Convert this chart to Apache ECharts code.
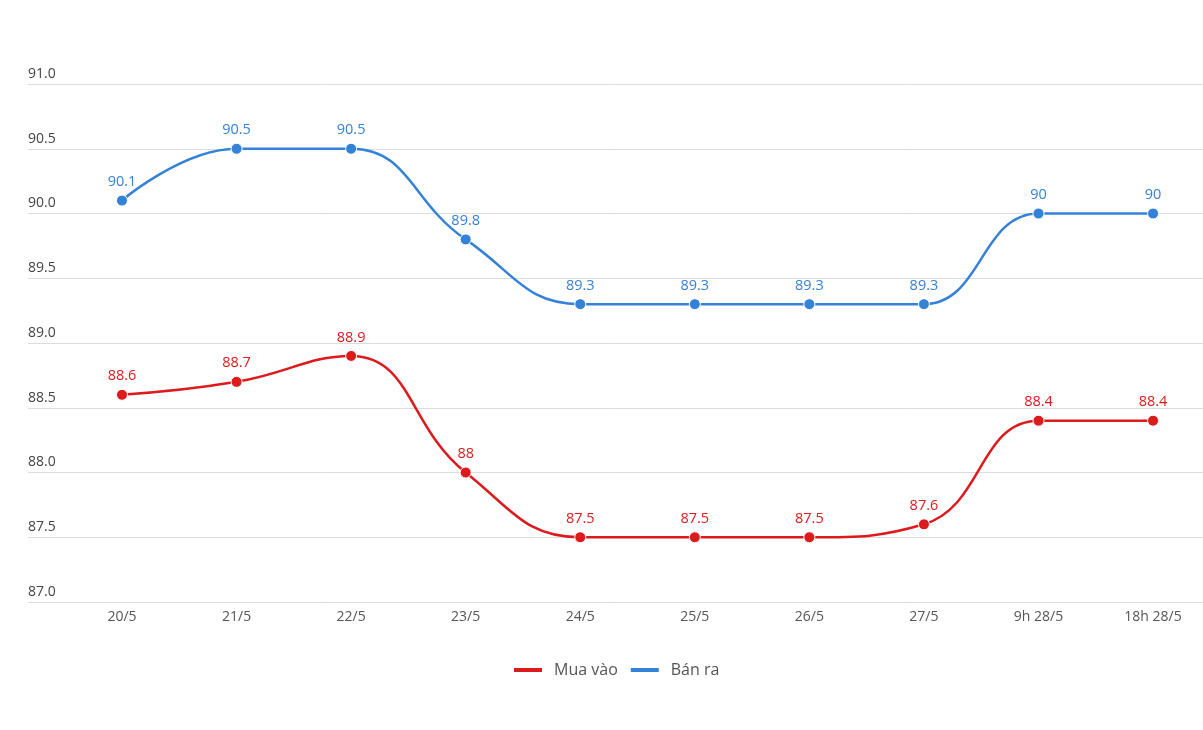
<!DOCTYPE html>
<html>
<head>
<meta charset="utf-8">
<script src="https://cdn.jsdelivr.net/npm/echarts@6/dist/echarts.min.js"></script>
<style>html,body{margin:0;padding:0;background:#fff}#c{width:1203px;height:730px}</style>
</head>
<body>
<div id="c"></div>
<script>
const categories = ['20/5','21/5','22/5','23/5','24/5','25/5','26/5','27/5','9h 28/5','18h 28/5'];
const muaVao = [88.6, 88.7, 88.9, 88.0, 87.5, 87.5, 87.5, 87.6, 88.4, 88.4];
const banRa = [90.1, 90.5, 90.5, 89.8, 89.3, 89.3, 89.3, 89.3, 90.0, 90.0];
const yMin = 87, yMax = 91, yStep = 0.5;

const RED = '#dd1a1c', BLUE = '#3482d8';
const FONT = '"Open Sans", "Noto Sans", sans-serif';
const chart = echarts.init(document.getElementById('c'), null, {renderer: 'canvas'});
const idx = categories.map((c, i) => i);
const toPairs = arr => arr.map((v, i) => [i, v]);
chart.setOption({
  animation: false,
  backgroundColor: '#fff',
  grid: {left: 28, right: 0, top: 84, bottom: 128},
  legend: {
    bottom: 47, left: 509,
    icon: 'rect', itemWidth: 28, itemHeight: 4, itemGap: 13,
    itemStyle: {borderWidth: 0},
    textStyle: {color: '#555', fontSize: 16, fontFamily: FONT, padding: [0,0,0,7]},
    data: ['Mua vào', 'Bán ra']
  },
  xAxis: {
    type: 'value', min: -0.8205, max: 9.436,
    axisLine: {show: false}, axisTick: {show: false}, splitLine: {show: false},
    axisLabel: {customValues: idx, color: '#555', fontSize: 14, fontFamily: FONT, margin: 8,
      formatter: v => categories[Math.round(v)]}
  },
  yAxis: {
    type: 'value', min: yMin, max: yMax, interval: yStep,
    axisLine: {show: false}, axisTick: {show: false},
    splitLine: {lineStyle: {color: '#dcdcdc', width: 1}},
    axisLabel: {inside: true, margin: 0, verticalAlign: 'bottom', padding: [0,0,3,0],
      color: '#444', fontSize: 14, fontFamily: FONT,
      formatter: v => v.toFixed(1)}
  },
  series: [
    {name: 'Mua vào', type: 'line', data: toPairs(muaVao),
     smooth: 0.45, color: RED, lineStyle: {width: 2.5, color: RED},
     symbol: 'circle', symbolSize: 11, itemStyle: {color: RED, borderColor: '#fff', borderWidth: 1},
     label: {show: true, position: 'top', distance: 5, color: RED, fontSize: 14.5, fontFamily: FONT, formatter: p => String(p.value[1])}},
    {name: 'Bán ra', type: 'line', data: toPairs(banRa),
     smooth: 0.45, color: BLUE, lineStyle: {width: 2.5, color: BLUE},
     symbol: 'circle', symbolSize: 11, itemStyle: {color: BLUE, borderColor: '#fff', borderWidth: 1},
     label: {show: true, position: 'top', distance: 5, color: BLUE, fontSize: 14.5, fontFamily: FONT, formatter: p => String(p.value[1])}}
  ]
});
</script>
</body>
</html>
